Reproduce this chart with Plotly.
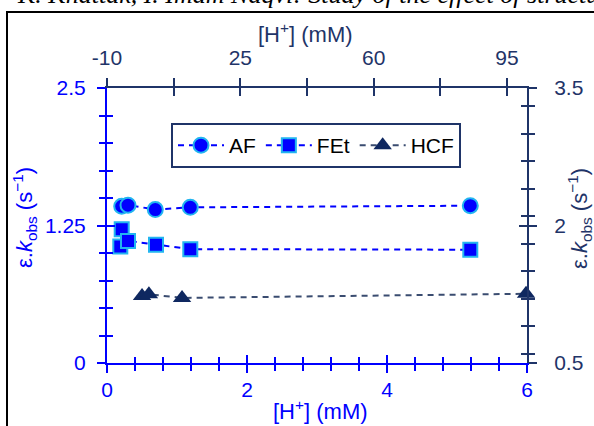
import plotly.graph_objects as go

# ---- data ----
af_x = [0.21, 0.30, 0.69, 1.19, 5.19]
af_y = [1.425, 1.435, 1.395, 1.415, 1.43]

fet_x = [0.19, 0.21, 0.30, 0.70, 1.19, 5.19]
fet_y = [1.06, 1.215, 1.11, 1.075, 1.035, 1.03]

hcf_x = [-0.8, 1.0, 9.7, 100.0]      # top axis, [H+] (mM)
hcf_y = [1.23, 1.25, 1.21, 1.255]    # right axis

series_names = ["AF", "FEt", "HCF"]

top_tickvals = [-10, 25, 60, 95]
top_ticktext = ["-10", "25", "60", "95"]

BLUE = "#0000FF"
NAVY = "#1F3468"
CYAN = "#22B5F0"
FONT = "Liberation Sans, Arial, sans-serif"

W, H = 594, 426
L, R, T, B = 107, 67, 88, 63
PW, PH = W - L - R, H - T - B


def px(xp):
    return (xp - L) / PW


def py(yp):
    return (H - B - yp) / PH


fig = go.Figure()

fig.add_trace(go.Scatter(
    x=af_x, y=af_y, name=series_names[0], mode="lines+markers",
    line=dict(color=BLUE, width=2, dash="6px,5px"),
    marker=dict(symbol="circle", size=15, color=BLUE, line=dict(color=CYAN, width=2)),
    cliponaxis=False, xaxis="x", yaxis="y"))

fig.add_trace(go.Scatter(
    x=fet_x, y=fet_y, name=series_names[1], mode="lines+markers",
    line=dict(color=BLUE, width=2, dash="6px,5px"),
    marker=dict(symbol="square", size=14, color=BLUE, line=dict(color=CYAN, width=2)),
    cliponaxis=False, xaxis="x", yaxis="y"))

fig.add_trace(go.Scatter(
    x=hcf_x, y=hcf_y, name=series_names[2], mode="lines+markers",
    line=dict(color="#3A4C70", width=2, dash="6px,5px"),
    marker=dict(symbol="triangle-up", size=16, color="#0F2860"),
    cliponaxis=False, xaxis="x2", yaxis="y2"))

# dummy traces so the overlay (inside-tick) axes are drawn
for xa, ya in [("x3", "y"), ("x", "y3"), ("x4", "y2"), ("x2", "y4")]:
    fig.add_trace(go.Scatter(x=[None], y=[None], xaxis=xa, yaxis=ya,
                             showlegend=False, hoverinfo="skip"))

common = dict(showgrid=False, zeroline=False, tickwidth=2, automargin=False)

fig.update_layout(
    width=W, height=H,
    margin=dict(l=L, r=R, t=T, b=B, pad=0, autoexpand=False),
    paper_bgcolor="white", plot_bgcolor="white",
    font=dict(family=FONT, size=21),
    showlegend=True,
    legend=dict(orientation="h", x=px(171), y=py(123), xanchor="left", yanchor="top",
                bordercolor=NAVY, borderwidth=2, bgcolor="white",
                font=dict(family=FONT, size=21, color="black"),
                itemwidth=46, itemsizing="trace"),
    # bottom axis
    xaxis=dict(range=[0, 6], tick0=0, dtick=2, ticks="outside", ticklen=8,
               tickcolor=BLUE, showline=True, linecolor=BLUE, linewidth=2,
               tickfont=dict(color=BLUE, size=21), ticklabelstandoff=-1,
               minor=dict(dtick=0.4, ticks="outside", ticklen=6, tickcolor=BLUE, tickwidth=2),
               anchor="y", side="bottom", **common),
    xaxis3=dict(range=[0, 6], tick0=0, dtick=2, ticks="inside", ticklen=8,
                tickcolor=BLUE, showline=False, showticklabels=False,
                minor=dict(dtick=0.4, ticks="inside", ticklen=6, tickcolor=BLUE, tickwidth=2),
                overlaying="x", anchor="y", side="bottom", **common),
    # left axis
    yaxis=dict(range=[0, 2.5], tick0=0, dtick=1.25, ticks="outside", ticklen=8,
               tickcolor=BLUE, showline=True, linecolor=BLUE, linewidth=2,
               tickfont=dict(color=BLUE, size=21), ticklabelstandoff=7,
               minor=dict(dtick=0.25, ticks="outside", ticklen=6, tickcolor=BLUE, tickwidth=2),
               anchor="x", side="left", **common),
    yaxis3=dict(range=[0, 2.5], tick0=0, dtick=1.25, ticks="inside", ticklen=8,
                tickcolor=BLUE, showline=False, showticklabels=False,
                minor=dict(dtick=0.25, ticks="inside", ticklen=6, tickcolor=BLUE, tickwidth=2),
                overlaying="y", anchor="x", side="left", **common),
    # top axis
    xaxis2=dict(range=[-10, 100.25], tickmode="array", tickvals=top_tickvals,
                ticktext=top_ticktext, ticks="outside", ticklen=8,
                tickcolor=NAVY, showline=True, linecolor=NAVY, linewidth=2,
                tickfont=dict(color=NAVY, size=21), ticklabelstandoff=5,
                minor=dict(tick0=-10, dtick=17.5, ticks="outside", ticklen=8,
                           tickcolor=NAVY, tickwidth=2),
                overlaying="x", anchor="y", side="top", **common),
    xaxis4=dict(range=[-10, 100.25], tick0=-10, dtick=35, ticks="inside", ticklen=8,
                tickcolor=NAVY, showline=False, showticklabels=False,
                minor=dict(tick0=-10, dtick=17.5, ticks="inside", ticklen=8,
                           tickcolor=NAVY, tickwidth=2),
                overlaying="x", anchor="y", side="top", **common),
    # right axis
    yaxis2=dict(range=[0.5, 3.5], tick0=0.5, dtick=1.5, ticks="outside", ticklen=8,
                tickcolor=NAVY, showline=True, linecolor=NAVY, linewidth=2,
                tickfont=dict(color=NAVY, size=21), ticklabelstandoff=13,
                minor=dict(dtick=0.3, ticks="outside", ticklen=6, tickcolor=NAVY, tickwidth=2),
                overlaying="y", anchor="x", side="right", **common),
    yaxis4=dict(range=[0.5, 3.5], tick0=0.5, dtick=1.5, ticks="inside", ticklen=8,
                tickcolor=NAVY, showline=False, showticklabels=False,
                minor=dict(dtick=0.3, ticks="inside", ticklen=6, tickcolor=NAVY, tickwidth=2),
                overlaying="y", anchor="x", side="right", **common),
)

title_txt = "ε.<i>k</i><sub>obs</sub> (s<sup>−1</sup>)"
hp_txt = "[H<sup>+</sup>] (mM)"

annotations = [
    dict(text=hp_txt, x=px(305), y=py(33), font=dict(color=NAVY, size=22)),
    dict(text=hp_txt, x=px(320), y=py(410), font=dict(color=BLUE, size=22)),
    dict(text=title_txt, x=px(24), y=py(218), textangle=-90, font=dict(color=BLUE, size=22)),
    dict(text=title_txt, x=px(579), y=py(219), textangle=-90, font=dict(color=NAVY, size=22)),
]
for a in annotations:
    a.update(xref="paper", yref="paper", showarrow=False, xanchor="center", yanchor="middle")
    fig.add_annotation(**a)

# cropped running header of the source page
fig.add_annotation(text="K. Khattak, I. Imam Naqvi: Study of the effect of structure",
                   xref="paper", yref="paper", x=px(15), y=py(11),
                   xanchor="left", yanchor="bottom", showarrow=False,
                   font=dict(family="Liberation Serif, Times New Roman, serif", size=26,
                             color="black", style="italic"))

# page frame
fig.add_shape(type="rect", xref="paper", yref="paper",
              x0=px(7), x1=px(620), y0=py(450), y1=py(12),
              line=dict(color="black", width=2), layer="below")

fig.write_html("out.html", config={"displayModeBar": False},
               post_script="document.body.style.margin='0';document.body.style.overflow='hidden';")
